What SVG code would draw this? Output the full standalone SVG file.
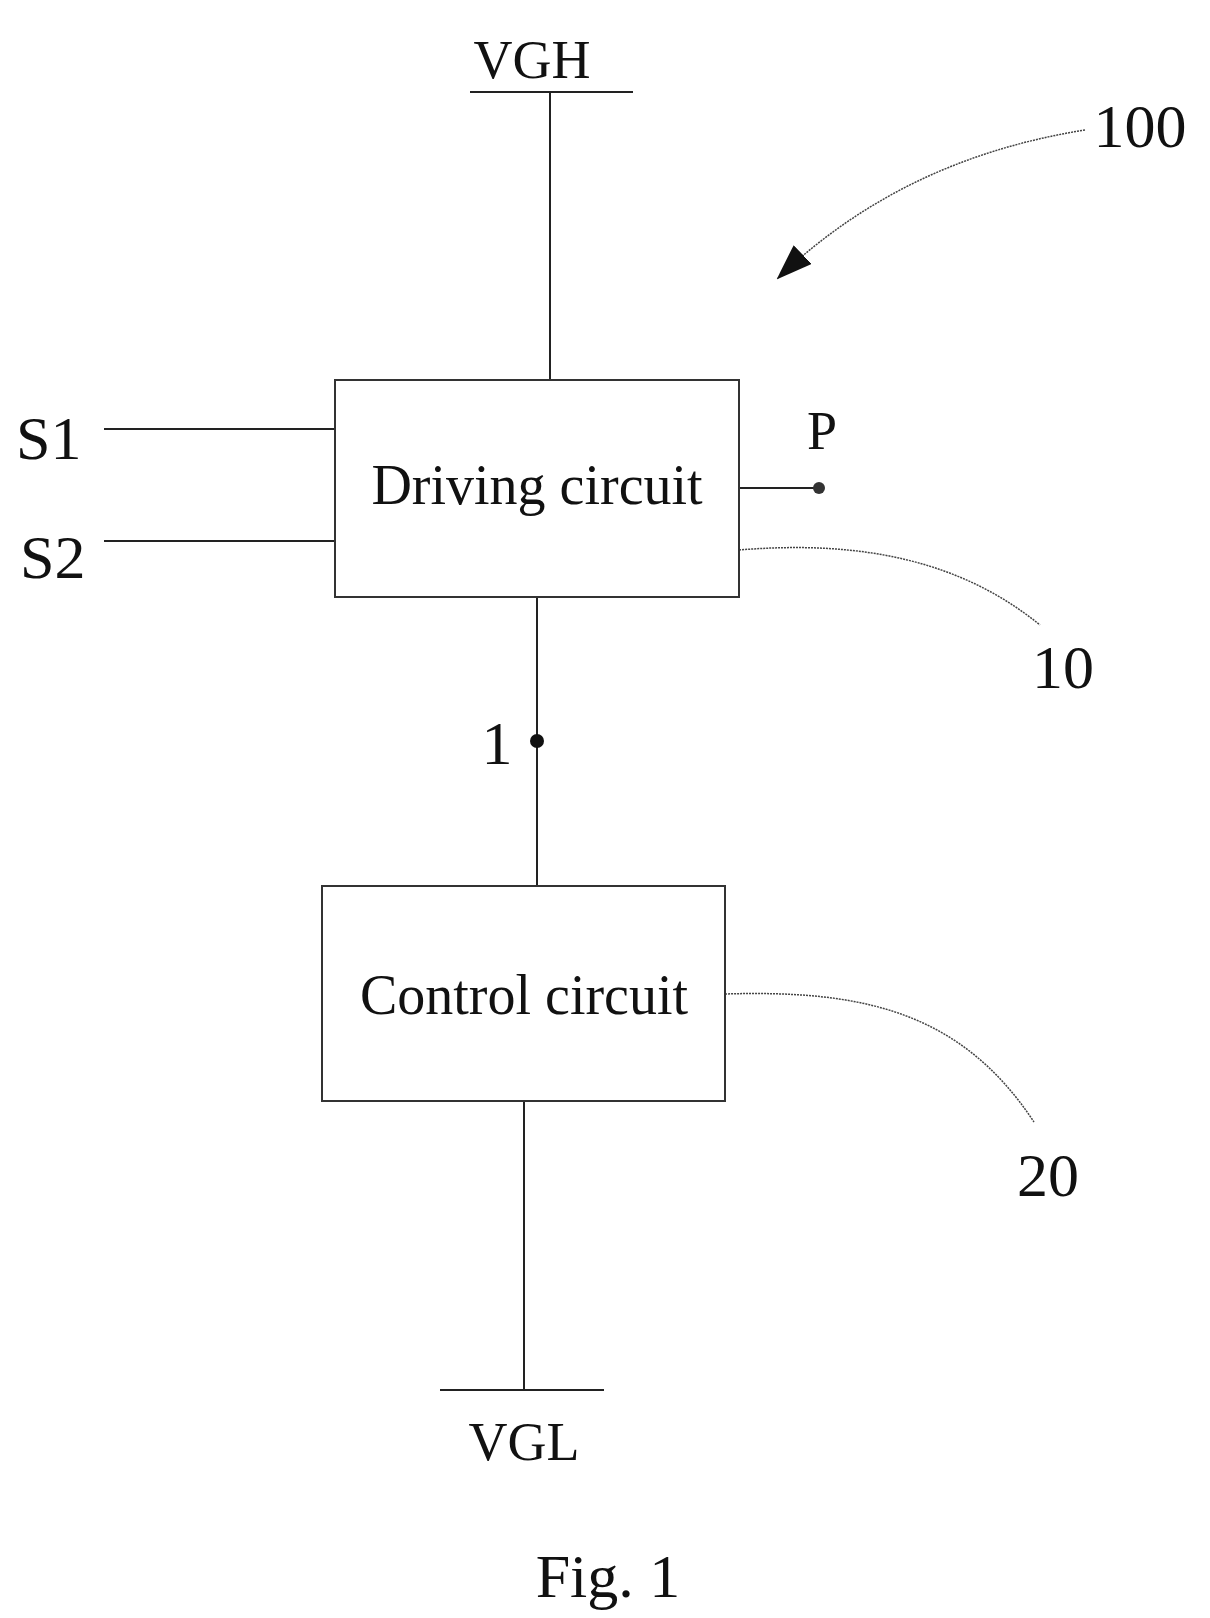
<svg xmlns="http://www.w3.org/2000/svg" width="1210" height="1618" viewBox="0 0 1210 1618">
<style>
text{font-family:"Liberation Serif","Times New Roman",serif;fill:#111}
.l{stroke:#222;stroke-width:2;fill:none}
.d{stroke:#444;stroke-width:1.5;fill:none;stroke-dasharray:2 1}
.b{fill:#fff;stroke:#333;stroke-width:2}
</style>
<defs><marker id="ah" markerWidth="36" markerHeight="26" refX="34" refY="13" orient="auto" markerUnits="userSpaceOnUse"><path d="M0,0L36,13L0,26z" fill="#111"/></marker></defs>
<g id="connectors">
<line class="l" x1="470" y1="92" x2="633" y2="92"/>
<line class="l" x1="550" y1="92" x2="550" y2="380"/>
<line class="l" x1="440" y1="1390" x2="604" y2="1390"/>
<line class="l" x1="524" y1="1101" x2="524" y2="1390"/>
<line class="l" x1="104" y1="429" x2="335" y2="429"/>
<line class="l" x1="104" y1="541" x2="335" y2="541"/>
<line class="l" x1="739" y1="488" x2="819" y2="488"/>
<circle cx="819" cy="488" r="6" fill="#333"/>
<line class="l" x1="537" y1="597" x2="537" y2="886"/>
<circle cx="537" cy="741" r="7" fill="#111"/>
<path class="d" d="M739,550 C860,540 960,560 1040,625"/>
<path class="d" d="M725,994 C860,990 960,1010 1034,1122"/>
<path class="d" d="M1085,130 C960,150 860,200 778,278" marker-end="url(#ah)"/>
</g>
<g id="driving"><rect class="b" x="335" y="380" width="404" height="217"/><text x="537" y="504" font-size="56" text-anchor="middle">Driving circuit</text></g>
<g id="control"><rect class="b" x="322" y="886" width="403" height="215"/><text x="524" y="1014" font-size="56" text-anchor="middle">Control circuit</text></g>
<g id="labels" font-size="62">
<text x="532" y="78" font-size="54" text-anchor="middle">VGH</text>
<text x="524" y="1460" font-size="54" text-anchor="middle">VGL</text>
<text x="16" y="459">S1</text>
<text x="20" y="578">S2</text>
<text x="822" y="449" font-size="54" text-anchor="middle">P</text>
<text x="497" y="764" text-anchor="middle">1</text>
<text x="1063" y="688" text-anchor="middle">10</text>
<text x="1048" y="1196" text-anchor="middle">20</text>
<text x="1140" y="147" text-anchor="middle">100</text>
<text x="608" y="1597" font-size="62" text-anchor="middle">Fig. 1</text>
</g>
</svg>
